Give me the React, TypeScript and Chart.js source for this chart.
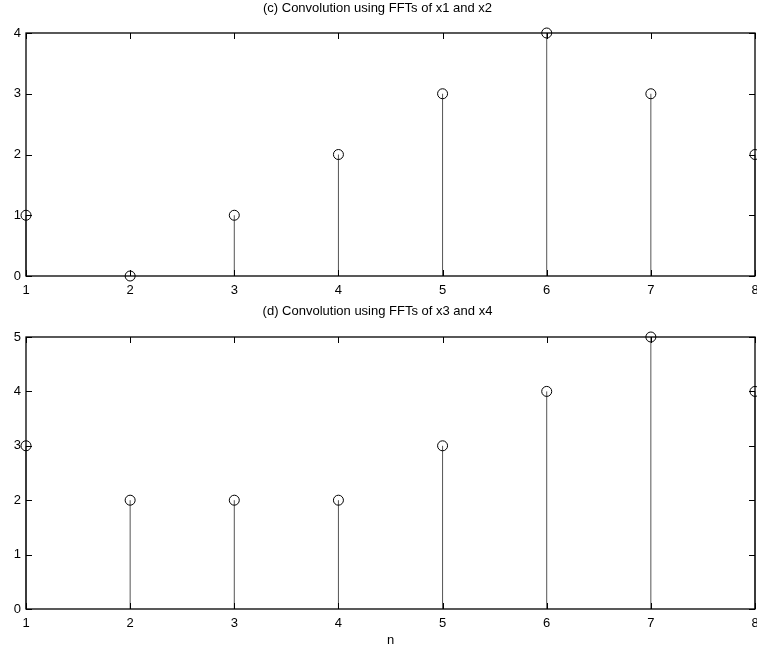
import React, { useEffect, useRef } from "react";
import { Chart, registerables } from "chart.js";

Chart.register(...registerables);

const nValues = [1, 2, 3, 4, 5, 6, 7, 8];
const seriesC = [1, 0, 1, 2, 3, 4, 3, 2];
const seriesD = [3, 2, 2, 2, 3, 4, 5, 4];
const titleC = "(c) Convolution using FFTs of x1 and x2";
const titleD = "(d) Convolution using FFTs of x3 and x4";
const xLabel = "n";

const FONT = "'Liberation Sans', Arial, Helvetica, sans-serif";

const boxPlugin = {
  id: "matlabBox",
  afterDatasetsDraw(chart: any) {
    const { ctx, chartArea, scales } = chart;
    const { left, right, top, bottom } = chartArea;
    ctx.save();
    ctx.strokeStyle = "#000";
    ctx.lineWidth = 1.3;
    ctx.strokeRect(left, top, right - left, bottom - top);
    ctx.lineWidth = 1;
    const tl = 6;
    ctx.beginPath();
    scales.x.ticks.forEach((t: any) => {
      const px = Math.round(scales.x.getPixelForValue(t.value)) + 0.5;
      ctx.moveTo(px, bottom);
      ctx.lineTo(px, bottom - tl);
      ctx.moveTo(px, top);
      ctx.lineTo(px, top + tl);
    });
    scales.y.ticks.forEach((t: any) => {
      const py = Math.round(scales.y.getPixelForValue(t.value)) + 0.5;
      ctx.moveTo(left, py);
      ctx.lineTo(left + tl, py);
      ctx.moveTo(right, py);
      ctx.lineTo(right - tl, py);
    });
    ctx.stroke();
    ctx.restore();
  },
};

function stemData(xs: number[], ys: number[]) {
  const out: any[] = [];
  xs.forEach((x, i) => {
    out.push({ x, y: 0 });
    out.push({ x, y: ys[i] });
    out.push({ x, y: null });
  });
  return out;
}

function StemChart(props: {
  values: number[];
  yMax: number;
  title: string;
  height: number;
  titleTop: number;
  titleBottom: number;
  xAxisHeight: number;
  showXLabel: boolean;
}) {
  const ref = useRef<HTMLCanvasElement | null>(null);
  useEffect(() => {
    if (!ref.current) return;
    const chart = new Chart(ref.current, {
      type: "line",
      data: {
        datasets: [
          {
            data: stemData(nValues, props.values) as any,
            borderColor: "rgba(0,0,0,0.85)",
            borderWidth: 0.8,
            pointRadius: 0,
            spanGaps: false,
            clip: false as any,
          },
          {
            data: nValues.map((x, i) => ({ x, y: props.values[i] })) as any,
            showLine: false,
            pointStyle: "circle",
            pointRadius: 5,
            pointBorderWidth: 1,
            pointBorderColor: "#000",
            pointBackgroundColor: "rgba(0,0,0,0)",
            clip: false as any,
          },
        ],
      },
      options: {
        responsive: false,
        animation: false,
        layout: {
          autoPadding: false,
          padding: { left: 0, right: 2, top: 0, bottom: 0 },
        },
        plugins: {
          legend: { display: false },
          tooltip: { enabled: false },
          title: {
            display: true,
            text: props.title,
            color: "#000",
            font: { family: FONT, size: 13, weight: "normal" as any },
            padding: { top: props.titleTop, bottom: props.titleBottom },
          },
        },
        scales: {
          x: {
            type: "linear",
            min: 1,
            max: 8,
            grid: { display: false, drawTicks: false },
            border: { display: false },
            ticks: {
              stepSize: 1,
              color: "#000",
              padding: 7,
              maxRotation: 0,
              font: { family: FONT, size: 13 },
            },
            title: {
              display: props.showXLabel,
              text: xLabel,
              color: "#000",
              font: { family: FONT, size: 13 },
              padding: { top: 0, bottom: 0 },
            },
            afterFit: (scale: any) => {
              scale.height = props.xAxisHeight;
              scale.paddingLeft = 0;
              scale.paddingRight = 0;
            },
          },
          y: {
            min: 0,
            max: props.yMax,
            grid: { display: false, drawTicks: false },
            border: { display: false },
            ticks: {
              stepSize: 1,
              color: "#000",
              padding: 5,
              font: { family: FONT, size: 13 },
            },
            afterFit: (scale: any) => {
              scale.width = 26;
              scale.paddingTop = 0;
              scale.paddingBottom = 0;
            },
          },
        },
      },
      plugins: [boxPlugin],
    });
    return () => chart.destroy();
  }, []);
  return (
    <canvas
      ref={ref}
      width={757}
      height={props.height}
      style={{ display: "block", width: 757, height: props.height }}
    />
  );
}

export default function App() {
  return (
    <div
      style={{
        position: "fixed",
        left: 0,
        top: 0,
        width: 757,
        height: 648,
        background: "#fff",
      }}
    >
      <StemChart
        values={seriesC}
        yMax={4}
        title={titleC}
        height={300}
        titleTop={0.2}
        titleBottom={17.2}
        xAxisHeight={24}
        showXLabel={false}
      />
      <StemChart
        values={seriesD}
        yMax={5}
        title={titleD}
        height={348}
        titleTop={3.2}
        titleBottom={18.2}
        xAxisHeight={39}
        showXLabel={true}
      />
    </div>
  );
}
